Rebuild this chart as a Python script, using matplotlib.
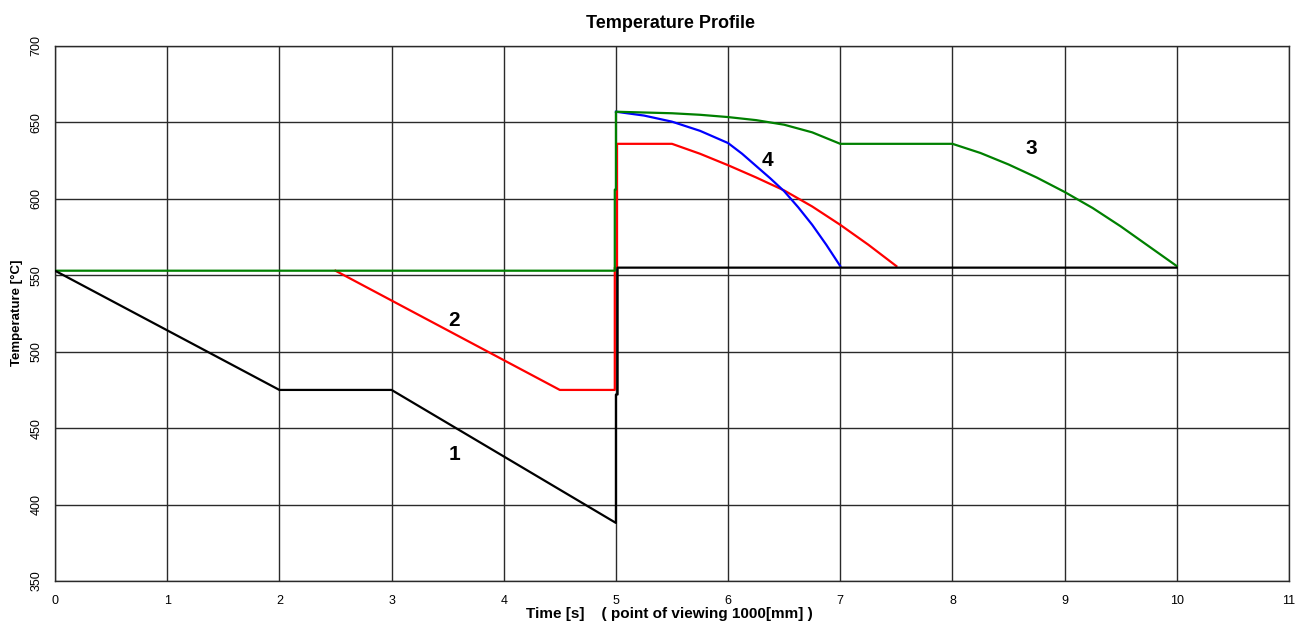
import matplotlib
matplotlib.use("Agg")
import matplotlib.pyplot as plt

plt.rcParams['font.family'] = ['Liberation Sans', 'DejaVu Sans']

# Curve 1 (black)
t1 = [0.0, 2.0, 3.0, 5.0, 5.0, 5.015, 5.015, 10.0]
T1 = [553, 475, 475, 388, 472, 472, 555, 555]

# Curve 2 (red)
t2 = [2.5, 4.5, 4.99, 4.99, 5.01, 5.01, 5.5, 5.75, 6.0, 6.25, 6.5, 6.75, 7.0, 7.25, 7.5]
T2 = [553, 475, 475, 555, 555, 636, 636, 629.5, 622, 614, 605.5, 595, 583, 570, 556]

# Curve 3 (green)
t3 = [0.0, 4.99, 4.99, 5.0, 5.0, 5.25, 5.5, 5.75, 6.0, 6.25, 6.5, 6.75, 7.0, 8.0,
      8.25, 8.5, 8.75, 9.0, 9.25, 9.5, 9.75, 10.0]
T3 = [553, 553, 606, 606, 657, 656.5, 656, 655, 653.5, 651.5, 648.5, 643.5, 636, 636,
      630, 622.5, 614, 604.5, 594, 582, 569, 556]

# Curve 4 (blue)
t4 = [5.0, 5.25, 5.5, 5.75, 6.0, 6.125, 6.25, 6.375, 6.5, 6.625, 6.75, 6.875, 7.0]
T4 = [657, 654.5, 650.5, 644.5, 636.5, 629.5, 621.5, 613.5, 605, 594.5, 583, 570, 556]

# Curve number labels
label_text = ["1", "2", "3", "4"]
label_t = [3.56, 3.56, 8.70, 6.35]
label_T = [432.5, 520.6, 632.8, 625.0]

x_ticks = list(range(0, 12))
y_ticks = list(range(350, 701, 50))

fig = plt.figure(figsize=(12.96, 6.23), dpi=100)
ax = fig.add_axes([55 / 1296, 42 / 623, 1234 / 1296, 535 / 623])

ax.plot(t2, T2, color="#ff0000", lw=1.6, zorder=3)
ax.plot(t4, T4, color="#0000ff", lw=1.6, zorder=4)
ax.plot(t3, T3, color="#008000", lw=1.6, zorder=5)
ax.plot(t1, T1, color="#000000", lw=1.6, zorder=6)

for s, x, y in zip(label_text, label_t, label_T):
    ax.text(x, y, s, fontsize=15, fontweight="bold", ha="center", va="center", zorder=7)

ax.set_xlim(0, 11)
ax.set_ylim(350, 700)
ax.set_xticks(x_ticks)
ax.set_yticks(y_ticks)
ax.set_xticklabels([str(v) for v in x_ticks], fontsize=9)
ax.set_yticklabels([str(v) for v in y_ticks], fontsize=9, rotation=90, va="center")
ax.tick_params(axis="both", length=0)
ax.tick_params(axis="x", pad=10)
ax.tick_params(axis="y", pad=9)
ax.grid(True, color="#2a2a2a", lw=1.0)
ax.set_axisbelow(True)
for sp in ax.spines.values():
    sp.set_color("#2a2a2a")
    sp.set_linewidth(1.0)

fig.text(670 / 1296, 1 - 23 / 623, "Temperature Profile",
         fontsize=13, fontweight="bold", ha="center", va="center")
fig.text(669 / 1296, 1 - 614 / 623, "Time [s]    ( point of viewing 1000[mm] )",
         fontsize=11, fontweight="bold", ha="center", va="center")
fig.text(17 / 1296, 1 - 313 / 623, "Temperature [°C]",
         fontsize=9.5, fontweight="bold", ha="center", va="center", rotation=90)

fig.savefig("out.png", dpi=100)
